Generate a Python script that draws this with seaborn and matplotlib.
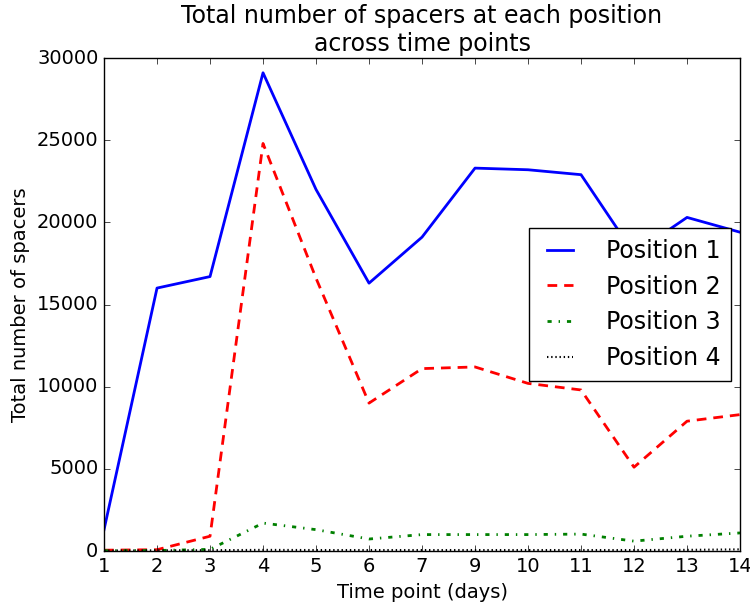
import matplotlib
matplotlib.use("Agg")
import matplotlib.pyplot as plt
import seaborn as sns
import pandas as pd

days = ["1", "2", "3", "4", "5", "6", "7", "9", "10", "11", "12", "13", "14"]
pos1 = [1300, 16000, 16700, 29100, 22000, 16300, 19100, 23300, 23200, 22900, 18100, 20300, 19400]
pos2 = [50, 80, 900, 24800, 16600, 9000, 11100, 11200, 10200, 9800, 5100, 7900, 8300]
pos3 = [20, 30, 100, 1700, 1300, 730, 1000, 1000, 1000, 1030, 600, 900, 1100]
pos4 = [30, 40, 50, 70, 60, 60, 60, 60, 60, 60, 60, 70, 100]
labels = ["Position 1", "Position 2", "Position 3", "Position 4"]

plt.style.use("classic")
plt.rcParams["font.family"] = ["DejaVu Sans"]
plt.rcParams["lines.scale_dashes"] = False
plt.rcParams["savefig.facecolor"] = "white"
plt.rcParams["figure.facecolor"] = "white"

fig = plt.figure(figsize=(7.5, 6.1), dpi=100)
ax = fig.add_axes([0.1387, 0.0967, 0.848, 0.8082])

idx = list(range(len(days)))
series = [pos1, pos2, pos3, pos4]
colors = ["#0000ff", "#ff0000", "#008000", "#000000"]
styles = ["-", (0, (7, 5)), (0, (3, 5, 1, 5)), (0, (1, 2))]
widths = [2, 2, 2, 1.5]

for vals, lab, c, ls, lw in zip(series, labels, colors, styles, widths):
    sns.lineplot(x=idx, y=vals, color=c, linestyle=ls, linewidth=lw,
                 label=lab, ax=ax)

ax.set_xlim(0, len(days) - 1)
ax.set_ylim(0, 30000)
ax.set_xticks(idx)
ax.set_xticklabels(days)
ax.set_yticks(range(0, 30001, 5000))
ax.tick_params(labelsize=14, direction="in", top=True, right=True)
ax.set_xlabel("Time point (days)", fontsize=14)
ax.set_ylabel("Total number of spacers", fontsize=14)
ax.set_title("Total number of spacers at each position\nacross time points",
             fontsize=17)

leg = ax.legend(loc="center right", bbox_to_anchor=(0.986, 0.5),
                fontsize=17, handlelength=1.7, handletextpad=1.1,
                fancybox=False, shadow=False, frameon=True,
                borderaxespad=0.0, labelspacing=0.5, borderpad=0.45)
leg.get_frame().set_edgecolor("black")

fig.savefig("out.png", dpi=100)
